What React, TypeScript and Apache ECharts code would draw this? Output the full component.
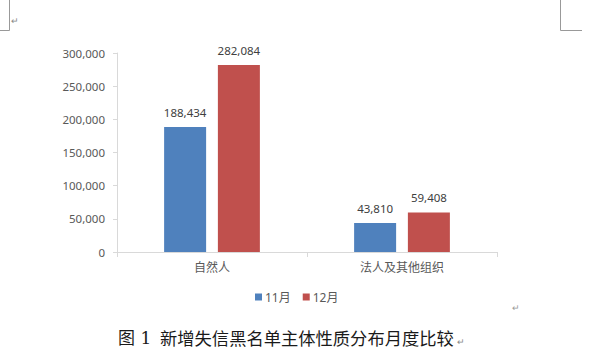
import React, { useEffect, useRef } from "react";
import * as echarts from "echarts";

const categories = ["自然人", "法人及其他组织"];
const seriesNames = ["11月", "12月"];
const novValues = [188434, 43810];
const decValues = [282084, 59408];
const captionNo = "图 1";
const caption = "新增失信黑名单主体性质分布月度比较";

export default function App() {
  const ref = useRef<HTMLDivElement>(null);
  useEffect(() => {
    const chart = echarts.init(ref.current!, null, { renderer: "svg" });
    const labelFont = "'Noto Sans', 'Noto Sans CJK SC', sans-serif";
    chart.setOption({
      animation: false,
      backgroundColor: "#ffffff",
      textStyle: { fontFamily: labelFont },
      grid: { left: 117, right: 103, top: 53, bottom: 106 },
      legend: {
        data: seriesNames,
        left: 250,
        top: 286,
        itemWidth: 7,
        itemHeight: 7,
        itemGap: 12,
        icon: "rect",
        textStyle: { color: "#595959", fontSize: 12, fontFamily: labelFont, padding: [0, 0, 0, -2] },
      },
      xAxis: {
        type: "category",
        data: categories,
        axisLine: { show: true, lineStyle: { color: "#d9d9d9" } },
        axisTick: { show: true, alignWithLabel: false, length: 5, lineStyle: { color: "#d9d9d9" } },
        axisLabel: { color: "#595959", fontSize: 12, margin: 9, fontFamily: labelFont },
      },
      yAxis: {
        type: "value",
        min: 0,
        max: 300000,
        interval: 50000,
        axisLine: { show: true, lineStyle: { color: "#d9d9d9" } },
        axisTick: { show: true, length: 4, lineStyle: { color: "#d9d9d9" } },
        splitLine: { show: false },
        axisLabel: {
          color: "#595959",
          fontSize: 11.5,
          margin: 12,
          fontFamily: labelFont,
          formatter: (v: number) => v.toLocaleString("en-US"),
        },
      },
      series: [
        {
          name: seriesNames[0],
          type: "bar",
          data: novValues,
          barWidth: 42,
          barGap: "28%",
          itemStyle: { color: "#4F81BD" },
          label: {
            show: true,
            position: "top",
            distance: 9,
            color: "#404040",
            fontSize: 11.5,
            fontFamily: labelFont,
            formatter: (p: any) => Number(p.value).toLocaleString("en-US"),
          },
        },
        {
          name: seriesNames[1],
          type: "bar",
          data: decValues,
          barWidth: 42,
          barGap: "28%",
          itemStyle: { color: "#C0504D" },
          label: {
            show: true,
            position: "top",
            distance: 9,
            color: "#404040",
            fontSize: 11.5,
            fontFamily: labelFont,
            formatter: (p: any) => Number(p.value).toLocaleString("en-US"),
          },
        },
      ],
      graphic: [
        { type: "line", shape: { x1: 9.5, y1: 0, x2: 9.5, y2: 30.5 }, style: { stroke: "#999", lineWidth: 1 } },
        { type: "line", shape: { x1: 0, y1: 30.5, x2: 9.5, y2: 30.5 }, style: { stroke: "#999", lineWidth: 1 } },
        { type: "text", left: 11, top: 16, style: { text: "↵", fill: "#888", fontSize: 9 } },
        { type: "line", shape: { x1: 560.5, y1: 0, x2: 560.5, y2: 30.5 }, style: { stroke: "#999", lineWidth: 1 } },
        { type: "line", shape: { x1: 560.5, y1: 30.5, x2: 582, y2: 30.5 }, style: { stroke: "#999", lineWidth: 1 } },
        { type: "text", left: 512, top: 303, style: { text: "↵", fill: "#999", fontSize: 9 } },
        {
          type: "text",
          left: 118,
          top: 329,
          style: {
            text: captionNo,
            fill: "#1a1a1a",
            fontSize: 17,
            fontFamily: "'DejaVu Serif', 'Noto Sans CJK SC', serif",
          },
        },
        {
          type: "text",
          left: 160,
          top: 329,
          style: {
            text: caption,
            fill: "#1a1a1a",
            fontSize: 17.3,
            fontFamily: "'Noto Sans CJK SC', sans-serif",
          },
        },
        { type: "text", left: 457, top: 337, style: { text: "↵", fill: "#888", fontSize: 9 } },
      ],
    });
    return () => chart.dispose();
  }, []);
  return (
    <div
      ref={ref}
      style={{ position: "fixed", left: 0, top: 0, width: 600, height: 358, background: "#fff" }}
    />
  );
}
